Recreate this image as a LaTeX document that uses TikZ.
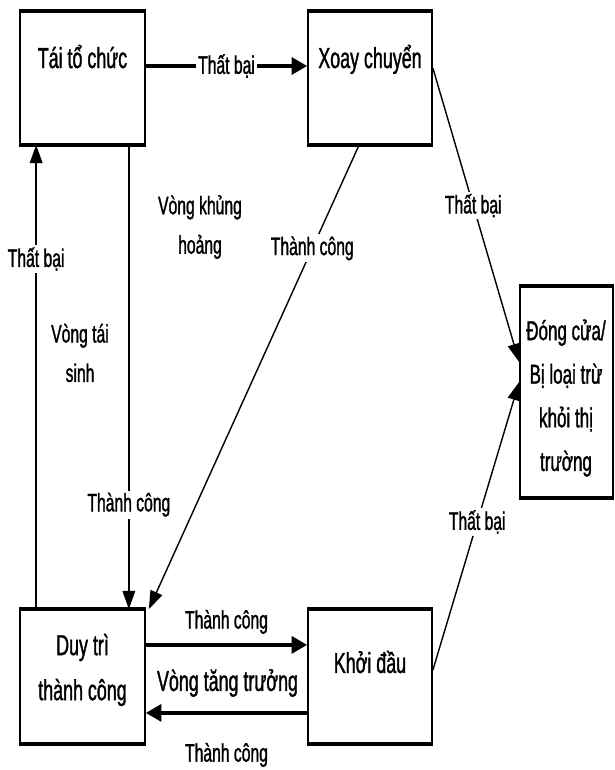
\documentclass[tikz,border=0pt]{standalone}
\usepackage{fontspec}
\setmainfont[FakeStretch=0.62, FakeBold=1.2]{Liberation Sans}
\usetikzlibrary{arrows.meta}
\tikzset{
  stage/.style={draw, line width=1.2pt, inner sep=0pt},
  stagetext/.style={align=center, font=\fontsize{20.5}{32}\selectfont},
  lbl/.style={align=center, inner sep=1.5pt, font=\fontsize{18}{28}\selectfont},
  cut/.style={fill=white},
  link/.style={line width=1pt, -{Triangle[length=13pt,width=9pt]}},
  fat/.style={line width=2.5pt, -{Triangle[length=11pt,width=12pt]}},
}
\begin{document}
\begin{tikzpicture}[x=0.025cm, y=-0.025cm]
  \useasboundingbox (0,0) rectangle (615,770);
  % stages
  \node[stage, minimum width=3.125cm, minimum height=3.3cm] (tai) at (82.5,78) {};
  \node[stage, minimum width=3.1cm, minimum height=3.3cm] (xoay) at (370,78) {};
  \node[stage, minimum width=2.325cm, minimum height=5.25cm] (dong) at (566.5,392) {};
  \node[stage, minimum width=3.125cm, minimum height=3.325cm] (duytri) at (82.5,676.5) {};
  \node[stage, minimum width=3.1cm, minimum height=3.325cm] (khoidau) at (370,676.5) {};
  \foreach \n in {tai,xoay,dong,duytri,khoidau} {
    \draw[line width=2.5pt] (\n.north west) -- (\n.north east);
    \draw[line width=2.5pt] (\n.south west) -- (\n.south east);
  }
  \node[stagetext, anchor=base] (taitext) at (82.5,68) {Tái tổ chức};
  \node[stagetext, anchor=base] (xoaytext) at (370,68) {Xoay chuyển};
  \node[stagetext, font=\fontsize{19.5}{31}\selectfont] (dongtext) at (566,398) {Đóng cửa/\\Bị loại trừ\\khỏi thị\\trường};
  \node[stagetext] (duytritext) at (82.5,670) {Duy trì\\thành công};
  \node[stagetext] (khoidautext) at (370,662) {Khởi đầu};

  % loops
  \node[lbl] (taisinh) at (80,353) {Vòng tái\\sinh};
  \node[lbl] (khunghoang) at (200,227) {Vòng khủng\\hoảng};
  \node[stagetext] (tangtruong) at (227.5,683) {Vòng tăng trưởng};

  % transitions
  \draw[fat] ([yshift=0.3cm]tai.east) -- node[lbl, cut] {Thất bại} ([yshift=0.3cm]xoay.west);
  \draw[link] ([xshift=0.425cm]duytri.north west) -- node[lbl, cut, pos=0.754] {Thất bại} ([xshift=0.425cm]tai.south west);
  \draw[link] ([xshift=-0.425cm]tai.south east) -- node[lbl, cut, pos=0.775] {Thành công} ([xshift=-0.425cm]duytri.north east);
  \draw[link] ([xshift=1.3cm]xoay.south west) -- node[lbl, cut, pos=0.223] {Thành công} ([xshift=0.075cm]duytri.north east);
  \draw[link] ([yshift=0.25cm]xoay.east) -- node[lbl, cut, pos=0.468] {Thất bại} ([yshift=0.75cm]dong.west);
  \draw[link] ([yshift=0.16cm]khoidau.east) -- node[lbl, cut, pos=0.514] {Thất bại} ([yshift=0.25cm]dong.west);
  \draw[fat] ([yshift=0.79cm]duytri.east) -- node[lbl, yshift=0.575cm] {Thành công} ([yshift=0.79cm]khoidau.west);
  \draw[fat] ([yshift=-0.91cm]khoidau.west) -- node[lbl, yshift=-1.05cm] {Thành công} ([yshift=-0.91cm]duytri.east);
\end{tikzpicture}
\end{document}
